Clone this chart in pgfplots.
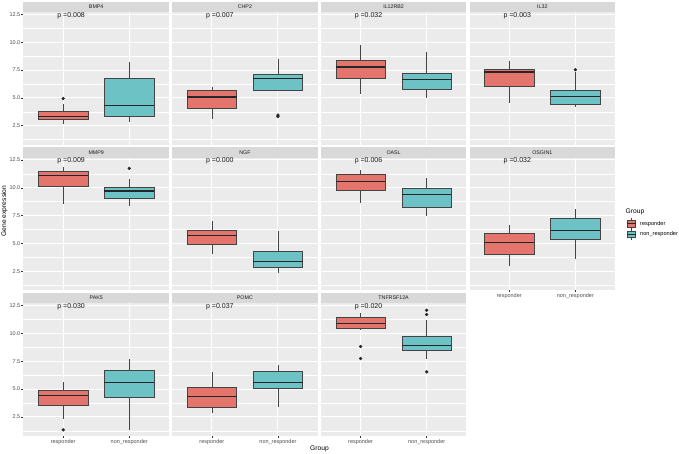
\documentclass[border=0pt]{standalone}
\usepackage{pgfplots}
\pgfplotsset{compat=1.18}
\usepgfplotslibrary{statistics}
\usepackage{fontspec}
\setmainfont{Liberation Sans}
\definecolor{panelbg}{HTML}{EBEBEB}
\definecolor{stripbg}{HTML}{D9D9D9}
\definecolor{striptext}{HTML}{1A1A1A}
\definecolor{labcol}{HTML}{4D4D4D}
\definecolor{tickcol}{HTML}{333333}
\definecolor{redf}{HTML}{E4756C}
\definecolor{tealf}{HTML}{6CC2C4}
\definecolor{boxline}{HTML}{444444}
\definecolor{medline}{HTML}{262626}
\pgfplotsset{
  panel/.style={
    scale only axis, width=145.4pt, height=132.8pt, anchor=north west,
    xmin=0.4, xmax=2.6, ymin=0.78, ymax=12.71,
    axis background/.style={fill=panelbg},
    axis line style={draw=none},
    xtick={1,2}, ytick={2.5,5,7.5,10,12.5},
    minor ytick={1.25,3.75,6.25,8.75,11.25},
    xmajorgrids, ymajorgrids, yminorgrids,
    major grid style={white, line width=0.9pt},
    minor grid style={white, line width=0.45pt},
    minor tick length=0pt,
    tick align=outside, major tick length=2pt, tick pos=left,
    xticklabels={}, yticklabels={},
    xtick style={draw=none}, ytick style={draw=none},
    tick label style={font=\fontsize{5.5}{6}\selectfont, text=labcol, inner sep=1pt},
    /pgf/number format/assume math mode=true,
    clip=false,
  },
  yshow/.style={ytick style={draw=tickcol, line width=0.5pt}, yticklabels={2.5,5.0,7.5,10.0,12.5}},
  xshow/.style={xtick style={draw=tickcol, line width=0.5pt}, xticklabels={responder,non\_responder}},
  bx/.style={draw=boxline, line width=0.55pt, solid,
    mark=*, mark size=1.35pt, mark options={fill=black!85, draw=black!85, solid},
    boxplot/draw direction=y,
    boxplot/box extend=0.75, boxplot/whisker extend=0,
    boxplot/every median/.style={line width=1.1pt, draw=medline}},
  rb/.style={bx, boxplot/every box/.append style={fill=redf}},
  tb/.style={bx, boxplot/every box/.append style={fill=tealf}},
}
\newcommand{\stripandp}[2]{%
  \fill[stripbg] (rel axis cs:0,1) rectangle ([yshift=10.3pt]rel axis cs:1,1);
  \node[font=\fontsize{5.3}{6}\selectfont, text=striptext, inner sep=0pt] at ([yshift=5.15pt]rel axis cs:0.5,1) {#1};
  \node[anchor=west, font=\fontsize{7}{8}\selectfont, inner sep=0pt, text=black!90] at (axis cs:0.91,12.41) {#2};
}
\begin{document}
\begin{tikzpicture}[x=1pt,y=1pt]
\path[use as bounding box] (0,0) rectangle (679,-454);
% ---------- Row 1 ----------
\begin{axis}[panel, yshow, at={(23.5pt,-12pt)}]
\addplot[rb, boxplot prepared={draw position=1, lower whisker=2.65, lower quartile=3.10, median=3.34, upper quartile=3.82, upper whisker=4.42}] table[row sep=\\, y index=0] {y\\ 4.93\\};
\addplot[tb, boxplot prepared={draw position=2, lower whisker=2.83, lower quartile=3.31, median=4.33, upper quartile=6.72, upper whisker=8.22}] coordinates {};
\stripandp{BMP4}{p =0.008}
\end{axis}
\begin{axis}[panel, at={(172.2pt,-12pt)}]
\addplot[rb, boxplot prepared={draw position=1, lower whisker=3.10, lower quartile=4.06, median=5.07, upper quartile=5.64, upper whisker=5.94}] coordinates {};
\addplot[tb, boxplot prepared={draw position=2, lower whisker=5.58, lower quartile=5.70, median=6.72, upper quartile=7.11, upper whisker=8.46}] table[row sep=\\, y index=0] {y\\ 3.45\\ 3.32\\};
\stripandp{CHP2}{p =0.007}
\end{axis}
\begin{axis}[panel, at={(320.9pt,-12pt)}]
\addplot[rb, boxplot prepared={draw position=1, lower whisker=5.37, lower quartile=6.75, median=7.77, upper quartile=8.37, upper whisker=9.72}] coordinates {};
\addplot[tb, boxplot prepared={draw position=2, lower whisker=4.99, lower quartile=5.73, median=6.63, upper quartile=7.17, upper whisker=9.12}] coordinates {};
\stripandp{IL12RB2}{p =0.032}
\end{axis}
\begin{axis}[panel, at={(469.6pt,-12pt)}]
\addplot[rb, boxplot prepared={draw position=1, lower whisker=4.51, lower quartile=6.00, median=7.32, upper quartile=7.53, upper whisker=8.31}] coordinates {};
\addplot[tb, boxplot prepared={draw position=2, lower whisker=4.15, lower quartile=4.42, median=5.10, upper quartile=5.67, upper whisker=7.29}] table[row sep=\\, y index=0] {y\\ 7.53\\};
\stripandp{IL32}{p =0.003}
\end{axis}
% ---------- Row 2 ----------
\begin{axis}[panel, yshow, at={(23.5pt,-157.6pt)}]
\addplot[rb, boxplot prepared={draw position=1, lower whisker=8.53, lower quartile=10.14, median=11.08, upper quartile=11.47, upper whisker=11.83}] coordinates {};
\addplot[tb, boxplot prepared={draw position=2, lower whisker=8.35, lower quartile=9.02, median=9.71, upper quartile=10.02, upper whisker=10.77}] table[row sep=\\, y index=0] {y\\ 11.74\\};
\stripandp{MMP9}{p =0.009}
\end{axis}
\begin{axis}[panel, at={(172.2pt,-157.6pt)}]
\addplot[rb, boxplot prepared={draw position=1, lower whisker=4.05, lower quartile=4.92, median=5.74, upper quartile=6.17, upper whisker=7.05}] coordinates {};
\addplot[tb, boxplot prepared={draw position=2, lower whisker=2.38, lower quartile=2.86, median=3.38, upper quartile=4.29, upper whisker=6.14}] coordinates {};
\stripandp{NGF}{p =0.000}
\end{axis}
\begin{axis}[panel, at={(320.9pt,-157.6pt)}]
\addplot[rb, boxplot prepared={draw position=1, lower whisker=8.62, lower quartile=9.74, median=10.53, upper quartile=11.20, upper whisker=11.59}] coordinates {};
\addplot[tb, boxplot prepared={draw position=2, lower whisker=7.44, lower quartile=8.29, median=9.41, upper quartile=9.95, upper whisker=10.86}] coordinates {};
\stripandp{OASL}{p =0.006}
\end{axis}
\begin{axis}[panel, xshow, at={(469.6pt,-157.6pt)}]
\addplot[rb, boxplot prepared={draw position=1, lower whisker=2.98, lower quartile=4.02, median=5.05, upper quartile=5.95, upper whisker=6.68}] coordinates {};
\addplot[tb, boxplot prepared={draw position=2, lower whisker=3.59, lower quartile=5.35, median=6.14, upper quartile=7.26, upper whisker=8.05}] coordinates {};
\stripandp{OSGIN1}{p =0.032}
\end{axis}
% ---------- Row 3 ----------
\begin{axis}[panel, yshow, xshow, at={(23.5pt,-303.2pt)}]
\addplot[rb, boxplot prepared={draw position=1, lower whisker=2.35, lower quartile=3.55, median=4.39, upper quartile=4.93, upper whisker=5.64}] table[row sep=\\, y index=0] {y\\ 1.33\\};
\addplot[tb, boxplot prepared={draw position=2, lower whisker=1.33, lower quartile=4.24, median=5.58, upper quartile=6.69, upper whisker=7.71}] coordinates {};
\stripandp{PAK5}{p =0.030}
\end{axis}
\begin{axis}[panel, xshow, at={(172.2pt,-303.2pt)}]
\addplot[rb, boxplot prepared={draw position=1, lower whisker=2.86, lower quartile=3.40, median=4.33, upper quartile=5.13, upper whisker=6.57}] coordinates {};
\addplot[tb, boxplot prepared={draw position=2, lower whisker=3.37, lower quartile=5.04, median=5.58, upper quartile=6.63, upper whisker=7.17}] coordinates {};
\stripandp{POMC}{p =0.037}
\end{axis}
\begin{axis}[panel, xshow, at={(320.9pt,-303.2pt)}]
\addplot[rb, boxplot prepared={draw position=1, lower whisker=10.31, lower quartile=10.46, median=10.85, upper quartile=11.42, upper whisker=11.87}] table[row sep=\\, y index=0] {y\\ 8.82\\ 7.74\\};
\addplot[tb, boxplot prepared={draw position=2, lower whisker=7.74, lower quartile=8.46, median=8.94, upper quartile=9.75, upper whisker=11.18}] table[row sep=\\, y index=0] {y\\ 12.08\\ 11.69\\ 6.54\\};
\stripandp{TNFRSF12A}{p =0.020}
\end{axis}
% ---------- Titles ----------
\node[rotate=90, font=\fontsize{6.7}{8}\selectfont, inner sep=0pt] at (4.5,-211) {Gene expression};
\node[font=\fontsize{6.7}{8}\selectfont, inner sep=0pt] at (319.5,-449.3) {Group};
% ---------- Legend ----------
\node[anchor=west, font=\fontsize{6.7}{8}\selectfont, inner sep=0pt] at (625.5,-211.7) {Group};
\draw[boxline, line width=0.5pt] (631.2,-218) -- (631.2,-229.4);
\draw[boxline, line width=0.5pt, fill=redf] (626.9,-220.6) rectangle (635.5,-226.8);
\draw[medline, line width=0.9pt] (626.9,-223.7) -- (635.5,-223.7);
\draw[boxline, line width=0.5pt] (631.2,-228.8) -- (631.2,-240.2);
\draw[boxline, line width=0.5pt, fill=tealf] (626.9,-231.4) rectangle (635.5,-237.6);
\draw[medline, line width=0.9pt] (626.9,-234.5) -- (635.5,-234.5);
\node[anchor=west, font=\fontsize{5.6}{7}\selectfont, inner sep=0pt] at (640,-223.7) {responder};
\node[anchor=west, font=\fontsize{5.6}{7}\selectfont, inner sep=0pt] at (640,-234.5) {non\_responder};
\end{tikzpicture}
\end{document}
